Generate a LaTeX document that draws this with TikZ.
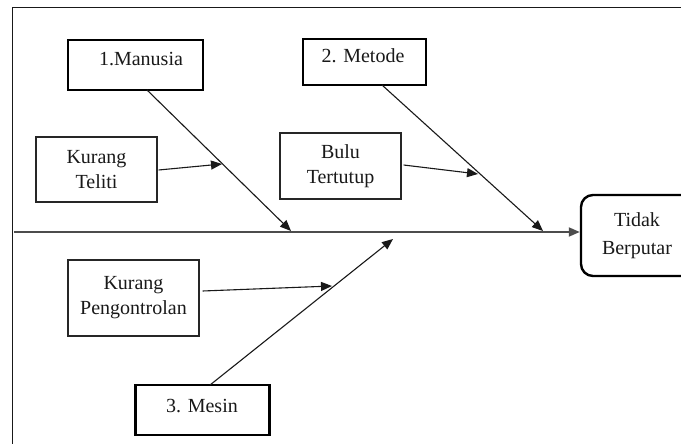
\documentclass[tikz,border=0pt]{standalone}
\usepackage{fontspec}
\setmainfont{Liberation Serif}
\usetikzlibrary{arrows.meta}
\begin{document}
\begin{tikzpicture}[x=1pt,y=-1pt,
  txt/.style={font=\fontsize{20}{25}\selectfont, text=black!90},
  lbl/.style={txt, inner sep=0pt},
  thinbox/.style={txt, draw=black!85, line width=1.2pt, inner sep=0pt, align=center},
  thickbox/.style={draw=black, line width=2.6pt, inner sep=0pt},
  headbox/.style={txt, draw=black, line width=2.4pt, rounded corners=12pt, inner sep=0pt, align=center},
  bone/.style={draw=black!90, line width=1.1pt, -{Triangle[length=11pt,width=9pt]}},
  spine/.style={draw=black!70, line width=1.8pt, -{Triangle[length=11pt,width=9pt]}}
  ]
\useasboundingbox (0,0) rectangle (681,444);
\fill[white] (0,0) rectangle (681,444);
\draw[line width=1.1pt, black!90] (12.5,460) -- (12.5,7.5) -- (700,7.5);

% main boxes
\node[thickbox, minimum width=135pt, minimum height=50pt] (man) at (135.5,65) {};
\node[lbl, anchor=base] (mantxt) at (141,66) {1.Manusia};
\node[thickbox, minimum width=123pt, minimum height=46pt] (met) at (364.5,62) {};
\node[lbl, anchor=base] (mettxt) at (363,63) {2. Metode};
\node[thickbox, minimum width=134pt, minimum height=50pt] (mes) at (202.5,410) {};
\node[lbl, anchor=base] (mestxt) at (202,412) {3. Mesin};

% cause boxes
\node[thinbox, minimum width=121pt, minimum height=65pt] (kt) at (96.5,169.5) {Kurang\\Teliti};
\node[thinbox, minimum width=121pt, minimum height=66pt] (bt) at (340.5,166) {Bulu\\Tertutup};
\node[thinbox, minimum width=131pt, minimum height=76pt] (kp) at (133.5,298) {Kurang\\Pengontrolan};

% effect
\node[headbox, minimum width=112pt, minimum height=81pt] (tb) at (637,235.5) {Tidak\\[3pt]Berputar};

% spine
\coordinate (spS) at (14,232);
\draw[spine] (spS) -- (tb.west |- spS);

% bones
\coordinate (manA) at (147,90);
\coordinate (manB) at (291,231);
\coordinate (metA) at (382,85);
\coordinate (metB) at (543,231);
\coordinate (mesA) at (210,385);
\coordinate (mesB) at (393,239);
\draw[bone] (manA) -- (manB);
\draw[bone] (metA) -- (metB);
\draw[bone] (mesA) -- (mesB);

% sub-causes
\coordinate (ktB) at (222,164);
\coordinate (btB) at (478,174);
\coordinate (kpB) at (332,286);
\draw[bone] ([xshift=1pt,yshift=-0.5pt]kt.east) -- (ktB);
\draw[bone] ([xshift=2pt,yshift=1pt]bt.east) -- (btB);
\draw[bone] ([xshift=3pt,yshift=7pt]kp.east) -- (kpB);
\end{tikzpicture}
\end{document}
